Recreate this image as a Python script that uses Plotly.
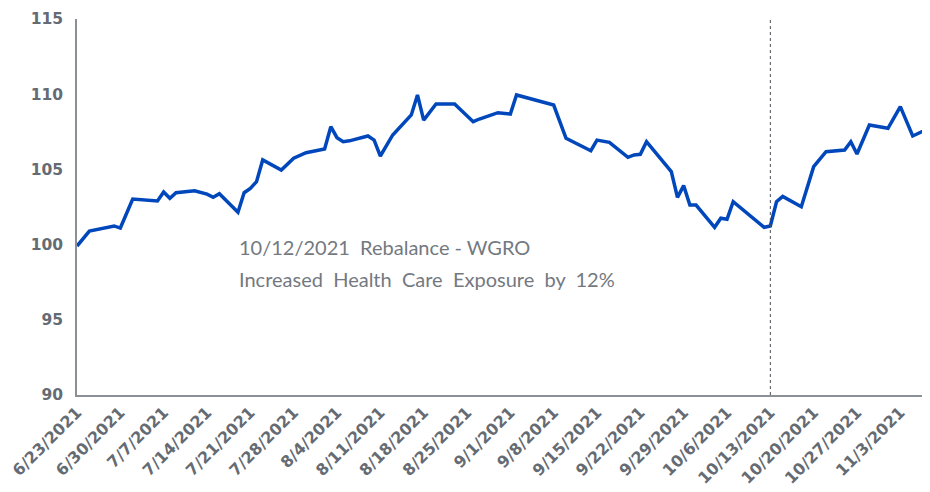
import plotly.graph_objects as go
import pandas as pd

# fechas y valores (índice base 100)
fechas = [
    "2021-06-23", "2021-06-25", "2021-06-29", "2021-06-30", "2021-07-02",
    "2021-07-06", "2021-07-07", "2021-07-08", "2021-07-09", "2021-07-12",
    "2021-07-14", "2021-07-15", "2021-07-16", "2021-07-19", "2021-07-20",
    "2021-07-21", "2021-07-22", "2021-07-23", "2021-07-26", "2021-07-28",
    "2021-07-30", "2021-08-02", "2021-08-03", "2021-08-04", "2021-08-05",
    "2021-08-06", "2021-08-09", "2021-08-10", "2021-08-11", "2021-08-13",
    "2021-08-16", "2021-08-17", "2021-08-18", "2021-08-20", "2021-08-23",
    "2021-08-26", "2021-08-27", "2021-08-30", "2021-09-01", "2021-09-02",
    "2021-09-08", "2021-09-10", "2021-09-14", "2021-09-15", "2021-09-17",
    "2021-09-20", "2021-09-21", "2021-09-22", "2021-09-23", "2021-09-27",
    "2021-09-28", "2021-09-29", "2021-09-30", "2021-10-01", "2021-10-04",
    "2021-10-05", "2021-10-06", "2021-10-07", "2021-10-12", "2021-10-13",
    "2021-10-14", "2021-10-15", "2021-10-18", "2021-10-20", "2021-10-22",
    "2021-10-25", "2021-10-26", "2021-10-27", "2021-10-29", "2021-11-01",
    "2021-11-03", "2021-11-05", "2021-11-08",
]
valores = [
    99.9, 100.9, 101.24, 101.1, 103.03,
    102.9, 103.5, 103.08, 103.45, 103.58,
    103.36, 103.15, 103.38, 102.15, 103.45,
    103.74, 104.18, 105.63, 104.96, 105.74,
    106.11, 106.36, 107.84, 107.11, 106.84,
    106.9, 107.22, 106.95, 105.89, 107.29,
    108.62, 109.95, 108.28, 109.35, 109.35,
    108.17, 108.35, 108.77, 108.68, 109.95,
    109.28, 107.07, 106.24, 106.95, 106.8,
    105.8, 105.96, 106.0, 106.84, 104.85,
    103.14, 103.92, 102.63, 102.63, 101.15,
    101.75, 101.68, 102.85, 101.15, 101.24,
    102.85, 103.2, 102.52, 105.18, 106.18,
    106.29, 106.84, 106.02, 107.95, 107.73,
    109.17, 107.22, 107.8,
]

fecha_rebalanceo = "2021-10-13"
texto_1 = "10/12/2021\u00a0\u00a0Rebalance - WGRO"
texto_2 = "Increased\u00a0 Health\u00a0 Care\u00a0 Exposure\u00a0 by\u00a0 12%"

AZUL = "#0047BB"
GRIS = "#656b73"
GRIS_TEXTO = "#74797f"

ticks = pd.date_range("2021-06-23", "2021-11-03", freq="7D")
etiquetas = [f"{d.month}/{d.day}/{d.year}" for d in ticks]

fig = go.Figure()
fig.add_trace(go.Scatter(
    x=fechas, y=valores,
    mode="lines",
    line=dict(color=AZUL, width=3.5),
    showlegend=False,
))

# línea vertical del rebalanceo
fig.add_shape(
    type="line", xref="x", yref="paper",
    x0=fecha_rebalanceo, x1=fecha_rebalanceo, y0=0, y1=1,
    line=dict(color="#4a5058", width=1, dash="dot"),
)

fig.add_annotation(
    x="2021-07-18 20:00", y=99.84, text=texto_1, showarrow=False,
    xanchor="left", yanchor="middle",
    font=dict(family="Lato", size=20, color=GRIS_TEXTO),
)
fig.add_annotation(
    x="2021-07-18 20:00", y=97.71, text=texto_2, showarrow=False,
    xanchor="left", yanchor="middle",
    font=dict(family="Lato", size=20, color=GRIS_TEXTO),
)

# la página tiene 8px de margen en el body: se compensa aquí
fig.update_layout(
    width=922, height=484,
    margin=dict(l=69, r=0, t=11, b=97),
    plot_bgcolor="white",
    paper_bgcolor="white",
    xaxis=dict(
        range=["2021-06-23", "2021-11-07 19:00"],
        tickvals=ticks, ticktext=etiquetas,
        tickangle=-45,
        tickfont=dict(family="DejaVu Sans", size=16, color=GRIS, weight="bold"),
        showgrid=False, zeroline=False,
        showline=True, linecolor="#8a9096", linewidth=1.5,
        ticks="", automargin=False,
    ),
    yaxis=dict(
        range=[90, 115], dtick=5,
        tickfont=dict(family="DejaVu Sans", size=15.5, color=GRIS, weight="bold"),
        showgrid=False, zeroline=False,
        showline=True, linecolor="#8a9096", linewidth=1.5,
        ticks="", ticklabelstandoff=9, automargin=False,
    ),
)

fig.write_html("out.html")
